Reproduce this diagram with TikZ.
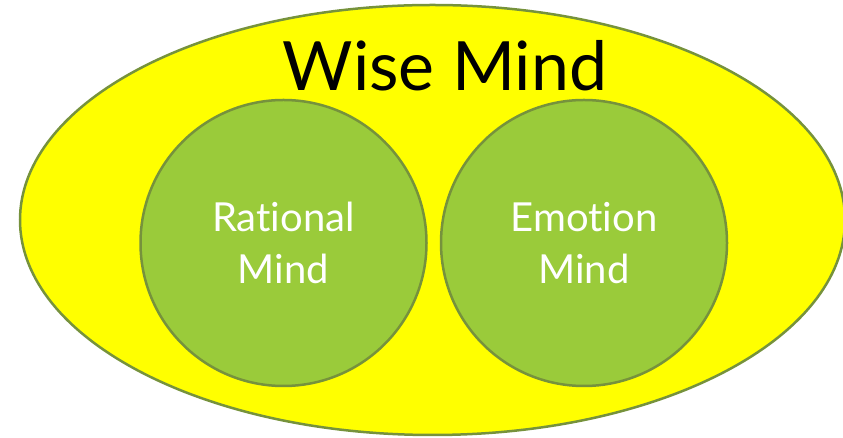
\documentclass[tikz,border=0pt]{standalone}
\usepackage{fontspec}
\setmainfont[Ligatures={NoCommon,NoRare}]{Lato}
\usepackage{tikz}
\usetikzlibrary{shapes.geometric}

\definecolor{wiseyellow}{HTML}{FFFF00}
\definecolor{mindgreen}{HTML}{9ACB3A}
\definecolor{edgegreen}{HTML}{76923C}

\begin{document}
\begin{tikzpicture}[x=1pt,y=1pt,line width=2.5pt]
  \tikzstyle{every mind}=[circle,fill=mindgreen,draw=edgegreen,text=white,
    minimum size=286pt,align=center,font=\fontsize{40}{52}\selectfont]
  \useasboundingbox (0,0) rectangle (843,438);

  \node[ellipse,fill=wiseyellow,draw=edgegreen,minimum width=825pt,
    minimum height=430pt] (W) at (432.5,218) {};
  \node[font=\fontsize{68}{80}\selectfont] (T) at (445,372) {Wise Mind};

  \node[every mind] (R) at (283.5,195) {Rational\\Mind};
  \node[every mind] (E) at (584,195)   {Emotion\\Mind};
\end{tikzpicture}
\end{document}
